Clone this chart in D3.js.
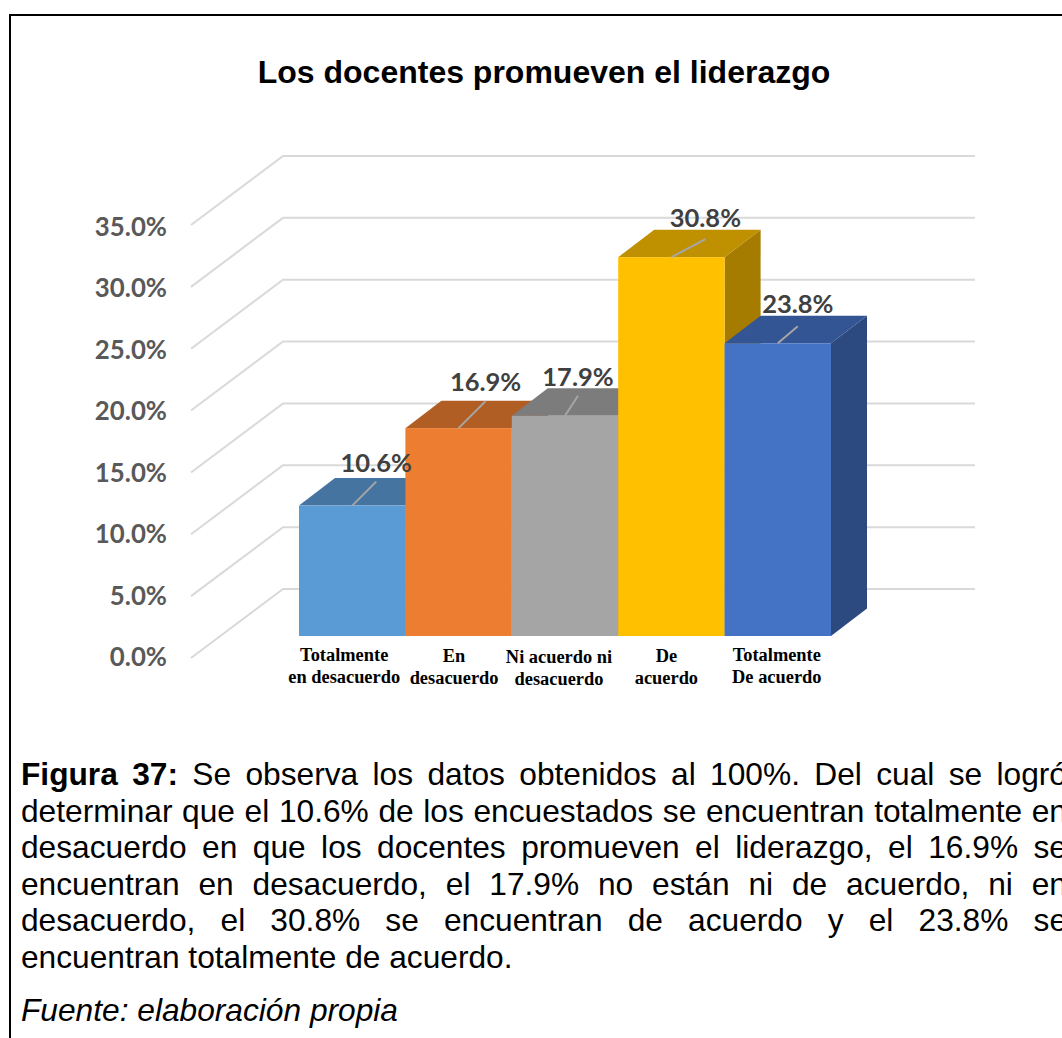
<!DOCTYPE html>
<html>
<head>
<meta charset="utf-8">
<script src="https://cdn.jsdelivr.net/npm/d3@7"></script>
<style>
  html, body { margin: 0; padding: 0; background: #fff; overflow: hidden; }
</style>
</head>
<body>
<div id="vis"></div>
<script>
var categories = [
  ["Totalmente", "en desacuerdo"],
  ["En", "desacuerdo"],
  ["Ni acuerdo ni", "desacuerdo"],
  ["De", "acuerdo"],
  ["Totalmente", "De acuerdo"]
];
var values = [10.6, 16.9, 17.9, 30.8, 23.8];
var ticks = [0, 5, 10, 15, 20, 25, 30, 35];
var chartTitle = "Los docentes promueven el liderazgo";
var captionLines = [
  "Se observa los datos obtenidos al 100%. Del cual se logró",
  "determinar que el 10.6% de los encuestados se encuentran totalmente en",
  "desacuerdo en que los docentes promueven el liderazgo, el 16.9% se",
  "encuentran en desacuerdo, el 17.9% no están ni de acuerdo, ni en",
  "desacuerdo, el 30.8% se encuentran de acuerdo y el 23.8% se",
  "encuentran totalmente de acuerdo."
];
var captionBold = "Figura 37:";
var source = "Fuente: elaboración propia";

// colours per bar: front, top, side
var fronts = ["#5B9BD5", "#ED7D31", "#A5A5A5", "#FFC000", "#4472C4"];
var tops = ["#44749F", "#B15E25", "#7C7C7C", "#BF9000", "#335593"];
var sides = ["#3D6890", "#9E5421", "#6F6F6F", "#A67C00", "#2C4A80"];

// label drag offsets as they sit in the picture [leader dx, leader dy, text dy]
var nudges = [[24, -24, -34], [27, -27, -37], [13, -20, -30], [34, -18, -30], [20, -17, -30]];
// category label offsets from the bar centre and the base line
var catShift = [-8, -4.5, -6, -5, -1];
var catDrop = [0, 0.5, 2, 1, 0];

var elem_width = 1062;
var elem_height = 1038;
var elem = d3.select("#vis")
  .append("svg")
  .attr("width", elem_width)
  .attr("height", elem_height)
  .style("display", "block");

elem.append("rect")
  .attr("width", elem_width)
  .attr("height", elem_height)
  .attr("fill", "#fff");

// page frame, the right side is outside the crop
elem.append("path")
  .attr("d", "M10,1038V15H1062")
  .attr("fill", "none")
  .attr("stroke", "#000")
  .attr("stroke-width", 2);

elem.append("text")
  .attr("x", 544)
  .attr("y", 83)
  .attr("text-anchor", "middle")
  .style("font", "bold 32px 'Liberation Sans'")
  .attr("fill", "#000")
  .text(chartTitle);

// back wall scale, the floor runs forward from it
var wallY = d3.scaleLinear().domain([0, 35]).range([589, 156]);
var tickY = d3.scaleLinear().domain([0, 35]).range([666, 236]);
var floorDx = -92, floorDy = 69;
var wallLeft = 283, wallRight = 975;

var grid = elem.append("g")
  .attr("fill", "none")
  .attr("stroke", "#D9D9D9")
  .attr("stroke-width", 2);

grid.selectAll("path")
  .data(ticks).enter()
  .append("path")
  .attr("d", function(d) {
    var p = d3.path();
    p.moveTo(wallLeft + floorDx, wallY(d) + floorDy);
    p.lineTo(wallLeft, wallY(d));
    p.lineTo(wallRight, wallY(d));
    return p.toString();
  });

elem.selectAll(".tick-label")
  .data(ticks).enter()
  .append("text")
  .attr("class", "tick-label")
  .attr("x", 167)
  .attr("y", function(d) { return tickY(d); })
  .attr("text-anchor", "end")
  .attr("fill", "#595959")
  .style("font", "bold 25.8px Lato")
  .text(function(d) { return d.toFixed(1) + "%"; });

// bars, front plane
var x = d3.scaleBand().domain(d3.range(values.length)).range([299, 831]);
var barY = d3.scaleLinear().domain([0, 35]).range([636, 205.5]);
var depthX = 36, depthY = 27.5;

var bars = elem.selectAll(".bar")
  .data(values).enter()
  .append("g")
  .attr("class", "bar");

function poly(pts) { return d3.line()(pts) + "Z"; }

bars.append("path")
  .attr("fill", function(d, i) { return sides[i]; })
  .attr("d", function(d, i) {
    var r = x(i) + x.bandwidth();
    return poly([[r, barY(d)], [r + depthX, barY(d) - depthY], [r + depthX, barY(0) - depthY], [r, barY(0)]]);
  });

bars.append("path")
  .attr("fill", function(d, i) { return tops[i]; })
  .attr("d", function(d, i) {
    var l = x(i), r = l + x.bandwidth();
    return poly([[l, barY(d)], [l + depthX, barY(d) - depthY], [r + depthX, barY(d) - depthY], [r, barY(d)]]);
  });

bars.append("rect")
  .attr("fill", function(d, i) { return fronts[i]; })
  .attr("x", function(d, i) { return x(i); })
  .attr("y", function(d) { return barY(d); })
  .attr("width", x.bandwidth())
  .attr("height", function(d) { return barY(0) - barY(d); });

// leader lines
elem.selectAll(".leader")
  .data(values).enter()
  .append("line")
  .attr("class", "leader")
  .attr("x1", function(d, i) { return x(i) + x.bandwidth() / 2; })
  .attr("y1", function(d) { return barY(d); })
  .attr("x2", function(d, i) { return x(i) + x.bandwidth() / 2 + nudges[i][0]; })
  .attr("y2", function(d, i) { return barY(d) + nudges[i][1]; })
  .attr("stroke", "#A6A6A6")
  .attr("stroke-width", 2);

elem.selectAll(".value")
  .data(values).enter()
  .append("text")
  .attr("class", "value")
  .attr("x", function(d, i) { return x(i) + x.bandwidth() / 2 + nudges[i][0]; })
  .attr("y", function(d, i) { return barY(d) + nudges[i][2]; })
  .attr("text-anchor", "middle")
  .attr("fill", "#404040")
  .style("font", "bold 25.5px Lato")
  .text(function(d) { return d.toFixed(1) + "%"; });

categories.forEach(function(lines, i) {
  lines.forEach(function(s, j) {
    elem.append("text")
      .attr("x", x(i) + x.bandwidth() / 2 + catShift[i])
      .attr("y", 661 + catDrop[i] + j * 22)
      .attr("text-anchor", "middle")
      .attr("fill", "#000")
      .style("font", "bold 18.4px 'Liberation Serif'")
      .text(s);
  });
});

// caption, justified against a right edge past the crop
var capLeft = 21, capRight = 1067, capTop = 785, capStep = 36.6;
var capFont = "31.7px 'Liberation Sans'";

elem.selectAll(".cap")
  .data(captionLines).enter()
  .append("text")
  .attr("class", "cap")
  .attr("y", function(d, i) { return capTop + i * capStep; })
  .attr("x", capLeft)
  .attr("fill", "#000")
  .style("font", capFont)
  .each(function(d, i) {
    var t = d3.select(this);
    if (i == 0) {
      t.append("tspan").style("font-weight", "bold").text(captionBold + " ");
    }
    t.append("tspan").text(d);
    if (i < captionLines.length - 1) {
      var gaps = d.split(" ").length - 1 + (i == 0 ? 2 : 0);
      var extra = (capRight - capLeft - this.getComputedTextLength()) / gaps;
      t.style("word-spacing", extra + "px");
    }
  });

elem.append("text")
  .attr("x", capLeft)
  .attr("y", 1021)
  .attr("fill", "#000")
  .style("font", "italic " + capFont)
  .text(source);
</script>
</body>
</html>
